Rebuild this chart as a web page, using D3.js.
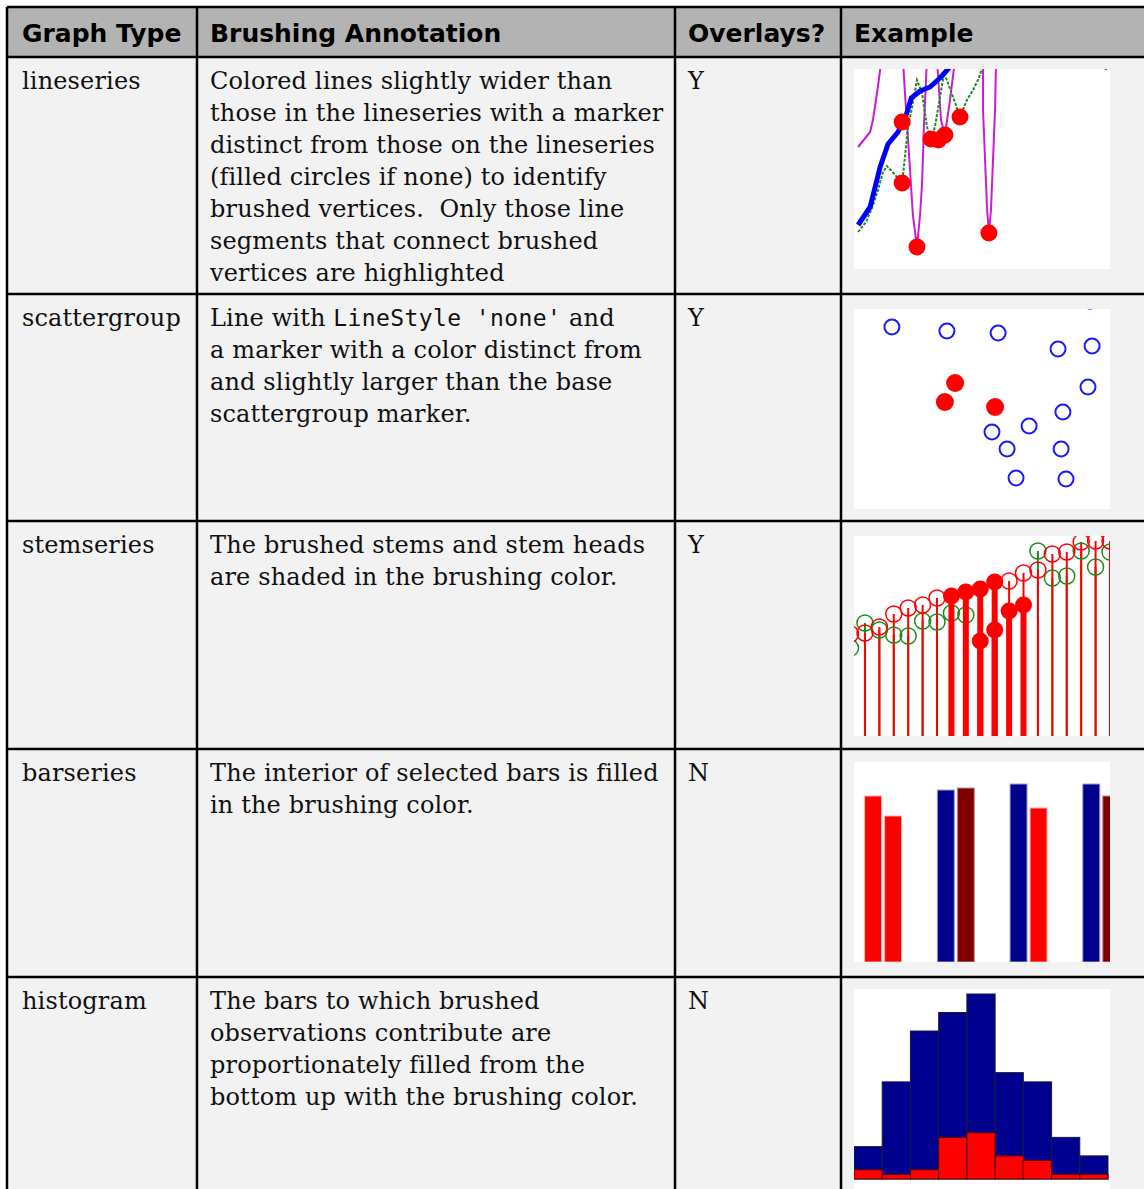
<!DOCTYPE html>
<html lang="en">
<head>
<meta charset="UTF-8">
<title>Brushing annotations</title>
<script src="https://cdn.jsdelivr.net/npm/d3@7"></script>
<style>
  body{ margin:0; background:#fff; }
  .hdr{ font-family:"DejaVu Sans",sans-serif; font-weight:bold; font-size:25px; fill:#000; }
  .cell{ font-family:"DejaVu Serif",serif; font-size:24px; letter-spacing:0.15px; fill:#111; }
  .code{ font-family:"DejaVu Sans Mono",monospace; font-size:23px; letter-spacing:0.4px; }
</style>
</head>
<body>
<svg id="main" width="1144" height="1189"></svg>
<script>
// ---- table text ----
const headers = ["Graph Type", "Brushing Annotation", "Overlays?", "Example"];
const graphTypes = ["lineseries", "scattergroup", "stemseries", "barseries", "histogram"];
const annotations = [
  ["Colored lines slightly wider than", "those in the lineseries with a marker", "distinct from those on the lineseries",
   "(filled circles if none) to identify", "brushed vertices.  Only those line", "segments that connect brushed",
   "vertices are highlighted"],
  ["Line with `LineStyle 'none'` and", "a marker with a color distinct from", "and slightly larger than the base",
   "scattergroup marker."],
  ["The brushed stems and stem heads", "are shaded in the brushing color."],
  ["The interior of selected bars is filled", "in the brushing color."],
  ["The bars to which brushed", "observations contribute are", "proportionately filled from the",
   "bottom up with the brushing color."]
];
const overlays = ["Y", "Y", "Y", "N", "N"];

// ---- lineseries example ----
const lineBlue = [[0.16,2.2],[0.63,3.1],[1.02,5.1],[1.33,6.25],[1.72,6.85],[2.05,7.75],[2.24,8.55],[2.58,8.9],[2.97,9.1],[3.36,9.55],[3.67,10],[3.95,10.5]];
const lineGreen = [[0.16,1.85],[0.47,2.35],[0.7,3.05],[0.94,3.95],[1.13,4.85],[1.29,5.15],[1.68,4.6],[1.88,4.3],[1.99,5.6],[2.11,7.1],
  [2.27,8.1],[2.46,9.45],[2.66,8.8],[2.85,7.1],[3.01,6.5],[3.16,7.1],[3.36,8.6],[3.52,9.8],[3.67,9.3],[3.95,8.3],[4.14,7.6],
  [4.41,8.45],[4.65,8.95],[4.84,9.45],[5.0,10.0]];
const lineMagenta = [
  [[0.16,6.1],[0.63,6.85],[0.74,7.45],[0.9,8.8],[1.02,9.95],[1.09,10.7]],
  [[1.91,10.5],[1.99,8.8],[2.19,4.95],[2.3,2.7],[2.46,1.1],[2.58,2.7],[2.66,4.3],[2.73,7.1],[2.85,10.5]],
  [[3.24,10.5],[3.4,7.45],[3.55,6.7],[3.75,8.45],[3.95,10.5]],
  [[5.04,10.5],[5.04,7.95],[5.12,5.45],[5.2,2.95],[5.27,1.8],[5.35,2.95],[5.43,5.45],[5.51,7.95],[5.55,10.5]],
  [[9.84,10.5],[9.84,9.95]]
];
const lineBrushed = [[1.88,7.35],[1.88,4.3],[2.46,1.1],[3.01,6.5],[3.3,6.45],[3.55,6.7],[4.14,7.6],[5.27,1.8]];

// ---- scattergroup example ----
const scatterX = [1.48,3.63,5.63,7.97,9.3,9.14,8.16,6.84,5.39,5.98,8.09,6.33,8.28,9.22];
const scatterY = [9.1,8.9,8.8,8.0,8.15,6.1,4.85,4.15,3.85,3.0,3.0,1.55,1.5,10.4];
const scatterBrushedX = [3.95,3.55,5.51];
const scatterBrushedY = [6.3,5.35,5.1];

// ---- stemseries example ----
const stemIndex = [-1,0,1,2,3,4,5,6,7,8,9,10,11,12,13,14,15,16,17];
const stemRed   = [5.1,5.15,5.45,6.1,6.4,6.55,6.9,7.0,7.2,7.35,7.7,7.75,8.15,8.3,9.1,9.2,9.7,9.75,9.75];
const stemGreen = [4.4,5.65,5.3,5.05,5.0,5.75,5.7,6.15,6.05,4.75,5.3,6.25,6.55,9.25,7.9,8.0,9.25,8.45,9.2];
const stemRedBrushed = [6,7,8,9];
const stemGreenBrushed = [8,9,10,11];

// ---- barseries example ----
const barGroups = [1,2,3,4];
const barSeries1 = [8.3,8.6,8.9,8.9];
const barSeries2 = [7.3,8.7,7.7,8.3];
const barBrushed1 = [1];
const barBrushed2 = [1,3];

// ---- histogram example ----
const histCounts = [7,21,32,36,40,23,21,9,5];
const histBrushed = [2,1,2,9,10,5,4,1,1];

// ---- layout ----
const W = 1144, H = 1189;
const colX = [7, 197, 675, 841, 1160];
const headerTop = 7, headerBottom = 57;
const rowTops = [57, 294, 521, 749, 977, 1205];
const exTops = [69, 309, 536, 762, 989];
const exLeft = 854, exW = 256, exH = 200;

const svg = d3.select("#main");

// backgrounds
svg.append("rect").attr("x", colX[0]).attr("y", headerTop)
  .attr("width", colX[4] - colX[0]).attr("height", headerBottom - headerTop).attr("fill", "#b3b3b3");
svg.append("rect").attr("x", colX[0]).attr("y", headerBottom)
  .attr("width", colX[4] - colX[0]).attr("height", H - headerBottom + 20).attr("fill", "#f2f2f2");

// header text
svg.selectAll("text.hdr").data(headers).enter().append("text")
  .attr("class", "hdr")
  .attr("x", (d, i) => colX[i] + (i === 0 ? 15 : 13))
  .attr("y", 42)
  .text(d => d);

// body text
graphTypes.forEach((g, r) => {
  const base = rowTops[r] + 32;
  svg.append("text").attr("class", "cell").attr("x", colX[0] + 15).attr("y", base).text(g);
  svg.append("text").attr("class", "cell").attr("x", colX[2] + 13).attr("y", base).text(overlays[r]);
  annotations[r].forEach((line, k) => {
    const t = svg.append("text").attr("class", "cell")
      .attr("x", colX[1] + 13).attr("y", base + k * 32)
      .style("white-space", "pre");
    line.split("`").forEach((part, j) => {
      const ts = t.append("tspan").text(part);
      if (j % 2 === 1) ts.attr("class", "code");
    });
  });
});

// example boxes
const defs = svg.append("defs");
function exampleGroup(r) {
  defs.append("clipPath").attr("id", "clip" + r).append("rect")
    .attr("x", exLeft).attr("y", exTops[r]).attr("width", exW).attr("height", exH);
  svg.append("rect").attr("x", exLeft).attr("y", exTops[r]).attr("width", exW).attr("height", exH).attr("fill", "#fff");
  return svg.append("g").attr("clip-path", `url(#clip${r})`);
}

// 1. lineseries
{
  const g = exampleGroup(0);
  const x = d3.scaleLinear().domain([0, 10]).range([exLeft, exLeft + exW]);
  const y = d3.scaleLinear().domain([0, 10]).range([exTops[0] + exH, exTops[0]]);
  const line = d3.line().x(d => x(d[0])).y(d => y(d[1]));
  g.selectAll("path.mag").data(lineMagenta).enter().append("path")
    .attr("d", line).attr("fill", "none").attr("stroke", "#c81ed2").attr("stroke-width", 2);
  g.append("path").datum(lineGreen).attr("d", line).attr("fill", "none")
    .attr("stroke", "#1f8a1f").attr("stroke-width", 2).attr("stroke-dasharray", "3,1.5");
  g.append("path").datum(lineBlue).attr("d", line).attr("fill", "none")
    .attr("stroke", "#0000ff").attr("stroke-width", 5).attr("stroke-linejoin", "round");
  g.selectAll("circle").data(lineBrushed).enter().append("circle")
    .attr("cx", d => x(d[0])).attr("cy", d => y(d[1])).attr("r", 8.5).attr("fill", "#ff0000");
}

// 2. scattergroup
{
  const g = exampleGroup(1);
  const x = d3.scaleLinear().domain([0, 10]).range([exLeft, exLeft + exW]);
  const y = d3.scaleLinear().domain([0, 10]).range([exTops[1] + exH, exTops[1]]);
  g.selectAll("circle.s").data(scatterX).enter().append("circle")
    .attr("cx", d => x(d)).attr("cy", (d, i) => y(scatterY[i])).attr("r", 7.5)
    .attr("fill", "none").attr("stroke", "#1a1aff").attr("stroke-width", 2);
  g.selectAll("circle.b").data(scatterBrushedX).enter().append("circle")
    .attr("cx", d => x(d)).attr("cy", (d, i) => y(scatterBrushedY[i])).attr("r", 9)
    .attr("fill", "#ff0000");
}

// 3. stemseries
{
  const g = exampleGroup(2);
  const x = d3.scaleLinear().domain([-0.76, 17]).range([exLeft, exLeft + exW]);
  const y = d3.scaleLinear().domain([0, 10]).range([exTops[2] + exH, exTops[2]]);
  const pts = stemIndex.map((ix, i) => ({ ix, red: stemRed[i], green: stemGreen[i] }));
  g.selectAll("line.gs").data(pts).enter().append("line")
    .attr("x1", d => x(d.ix)).attr("x2", d => x(d.ix)).attr("y1", d => y(d.green)).attr("y2", y(0))
    .attr("stroke", "#1f8a1f").attr("stroke-width", 2);
  g.selectAll("line.rs").data(pts).enter().append("line")
    .attr("x1", d => x(d.ix)).attr("x2", d => x(d.ix)).attr("y1", d => y(d.red)).attr("y2", y(0))
    .attr("stroke", "#ff0000").attr("stroke-width", 2);
  g.selectAll("circle.gm").data(pts.filter(d => !stemGreenBrushed.includes(d.ix))).enter().append("circle")
    .attr("cx", d => x(d.ix)).attr("cy", d => y(d.green)).attr("r", 8)
    .attr("fill", "none").attr("stroke", "#1f8a1f").attr("stroke-width", 1.5);
  g.selectAll("circle.rm").data(pts.filter(d => !stemRedBrushed.includes(d.ix))).enter().append("circle")
    .attr("cx", d => x(d.ix)).attr("cy", d => y(d.red)).attr("r", 8)
    .attr("fill", "none").attr("stroke", "#ff0000").attr("stroke-width", 1.5);
  const brushed = pts.filter(d => stemRedBrushed.includes(d.ix)).map(d => ({ ix: d.ix, v: d.red }))
    .concat(pts.filter(d => stemGreenBrushed.includes(d.ix)).map(d => ({ ix: d.ix, v: d.green })));
  g.selectAll("line.bs").data(brushed).enter().append("line")
    .attr("x1", d => x(d.ix)).attr("x2", d => x(d.ix)).attr("y1", d => y(d.v)).attr("y2", y(0))
    .attr("stroke", "#ff0000").attr("stroke-width", 6);
  g.selectAll("circle.bm").data(brushed).enter().append("circle")
    .attr("cx", d => x(d.ix)).attr("cy", d => y(d.v)).attr("r", 8.5).attr("fill", "#ff0000");
}

// 4. barseries
{
  const g = exampleGroup(3);
  const x = d3.scaleLinear().domain([0.6, 4.12]).range([exLeft, exLeft + exW]);
  const y = d3.scaleLinear().domain([0, 10]).range([exTops[3] + exH, exTops[3]]);
  const bw = 17, off = 10;
  const bars = barGroups.map((c, i) => ({ c, v: barSeries1[i], s: 0, b: barBrushed1.includes(c) }))
    .concat(barGroups.map((c, i) => ({ c, v: barSeries2[i], s: 1, b: barBrushed2.includes(c) })));
  g.selectAll("rect.bar").data(bars).enter().append("rect")
    .attr("x", d => x(d.c) + (d.s === 0 ? -off : off) - bw / 2)
    .attr("y", d => y(d.v)).attr("width", bw).attr("height", d => y(0) - y(d.v))
    .attr("fill", d => d.b ? "#ff0000" : (d.s === 0 ? "#00008f" : "#800000"))
    .attr("stroke", d => d.b ? "#ffb0b0" : (d.s === 0 ? "#a0a0d0" : "#c09090")).attr("stroke-width", 1);
}

// 5. histogram
{
  const g = exampleGroup(4);
  const x = d3.scaleLinear().domain([0, 9]).range([exLeft, exLeft + 254]);
  const y = d3.scaleLinear().domain([0, 40]).range([exTops[4] + 190, exTops[4] + 5]);
  g.selectAll("rect.h").data(histCounts).enter().append("rect")
    .attr("x", (d, i) => x(i)).attr("y", d => y(d)).attr("width", x(1) - x(0)).attr("height", d => y(0) - y(d))
    .attr("fill", "#00008f").attr("stroke", "#1a1a40").attr("stroke-width", 1);
  g.selectAll("rect.hb").data(histBrushed).enter().append("rect")
    .attr("x", (d, i) => x(i)).attr("y", d => y(d)).attr("width", x(1) - x(0)).attr("height", d => y(0) - y(d))
    .attr("fill", "#ff0000").attr("stroke", "#5a0000").attr("stroke-width", 1);
}

// grid lines
const grid = svg.append("g").attr("stroke", "#000").attr("stroke-width", 2.5);
grid.append("line").attr("x1", colX[0]).attr("x2", W + 10).attr("y1", headerTop).attr("y2", headerTop);
rowTops.forEach(t => grid.append("line").attr("x1", colX[0]).attr("x2", W + 10).attr("y1", t).attr("y2", t));
colX.forEach(c => grid.append("line").attr("x1", c).attr("x2", c).attr("y1", headerTop).attr("y2", H + 10));
</script>
</body>
</html>
